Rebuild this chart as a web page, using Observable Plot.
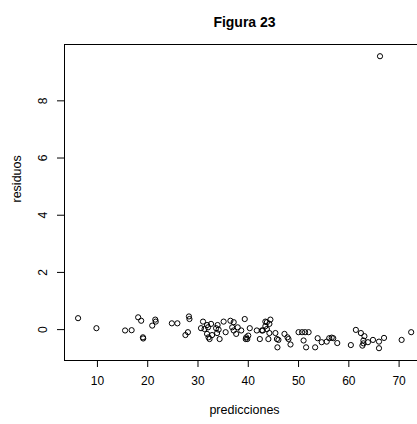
<!DOCTYPE html>
<html>
<head>
<meta charset="utf-8">
<script src="https://cdn.jsdelivr.net/npm/d3@7"></script>
<script src="https://cdn.jsdelivr.net/npm/@observablehq/plot@0.6"></script>
<style>
html, body { margin: 0; padding: 0; background: #fff; overflow: hidden; }
svg { display: block; max-width: none !important; height: 424px !important; }
</style>
</head>
<body>
<div id="chart"></div>
<script>
const titleText = "Figura 23";
const xLabel = "predicciones";
const yLabel = "residuos";
const xTicks = [10, 20, 30, 40, 50, 60, 70];
const yTicks = [0, 2, 4, 6, 8];

const predicciones = [
  6.15, 9.8, 15.5, 16.8, 18.1, 18.7, 19.05, 19.1, 20.9, 21.5,
  21.6, 24.8, 25.9, 28.2, 28.3, 28.0, 27.5, 30.6, 31.0, 31.3,
  31.8, 31.8, 32.0, 32.1, 32.3, 32.6, 32.8, 33.6, 33.8, 33.9,
  34.1, 34.3, 35.1, 35.5, 36.45, 36.8, 37.1, 37.1, 37.6, 37.9,
  38.6, 39.3, 39.6, 39.8, 40.0, 39.5, 40.3, 41.7, 42.3, 42.7,
  42.9, 43.4, 43.4, 43.7, 43.7, 44.0, 44.2, 44.4, 44.2, 45.4,
  45.7, 46.0, 45.8, 47.2, 47.8, 48.0, 48.4, 50.0, 50.7, 51.0,
  51.3, 51.5, 52.0, 53.3, 53.8, 54.6, 55.6, 56.1, 56.6, 56.9,
  57.7, 60.4, 61.4, 62.4, 63.1, 62.9, 62.7, 62.9, 63.8, 64.8,
  66.0, 66.0, 67.0, 66.2, 70.5, 72.4
];
const residuos = [
  0.40, 0.05, -0.03, -0.02, 0.43, 0.31, -0.27, -0.31, 0.14, 0.35,
  0.28, 0.22, 0.22, 0.46, 0.37, -0.09, -0.19, 0.05, 0.28, 0.02,
  0.16, -0.15, 0.08, -0.27, -0.33, 0.20, -0.19, 0.05, -0.12, 0.16,
  0.00, -0.33, 0.28, -0.09, 0.31, 0.08, 0.26, -0.03, -0.15, 0.08,
  -0.03, 0.37, -0.27, -0.33, -0.21, -0.33, 0.05, -0.03, -0.33, -0.03,
  -0.03, 0.28, 0.12, 0.02, 0.26, -0.33, 0.20, 0.35, -0.12, -0.12,
  -0.33, -0.36, -0.62, -0.15, -0.27, -0.33, -0.52, -0.09, -0.09, -0.38,
  -0.09, -0.62, -0.09, -0.62, -0.30, -0.44, -0.42, -0.30, -0.28, -0.30,
  -0.47, -0.54, -0.01, -0.12, -0.23, -0.38, -0.56, -0.48, -0.44, -0.36,
  -0.42, -0.65, -0.29, 9.56, -0.36, -0.09
];

const data = predicciones.map((x, i) => ({x, y: residuos[i]}));

const font = "'Liberation Sans', Arial, Helvetica, sans-serif";

const chart = Plot.plot({
  width: 424,
  height: 424,
  marginTop: 44,
  marginBottom: 64,
  marginLeft: 64,
  marginRight: 0,
  style: {fontFamily: font, fontSize: "12px", color: "#000", background: "#fff"},
  x: {domain: [3.45, 75.05], label: null},
  y: {domain: [-1.08, 9.97], label: null},
  marks: [
    Plot.frame({stroke: "#000", strokeWidth: 1}),
    Plot.axisX({ticks: xTicks, tickSize: 7, tickPadding: 9, label: null, fontSize: 12}),
    Plot.axisY({ticks: yTicks, tickSize: 7, tickFormat: () => "", label: null}),
    Plot.text(yTicks, {y: d => d, text: d => String(d), frameAnchor: "left", dx: -21, rotate: -90, textAnchor: "middle", fontSize: 12}),
    Plot.dot(data, {x: "x", y: "y", r: 2.6, stroke: "#000", strokeWidth: 1, fill: "none"}),
    Plot.text([titleText], {frameAnchor: "top", dy: -27, fontWeight: "bold", fontSize: 14}),
    Plot.text([xLabel], {frameAnchor: "bottom", dy: 53, fontSize: 12.5}),
    Plot.text([yLabel], {frameAnchor: "left", dx: -48, rotate: -90, fontSize: 12.5})
  ]
});
document.getElementById("chart").appendChild(chart);
</script>
</body>
</html>
